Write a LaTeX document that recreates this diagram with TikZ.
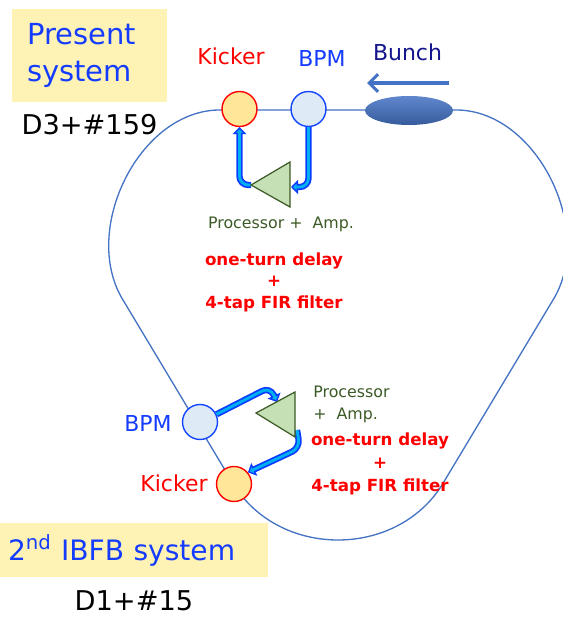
\documentclass[tikz,border=0pt]{standalone}
\usepackage{fontspec}
\setmainfont{DejaVu Sans}
\usetikzlibrary{arrows.meta,shapes.geometric,calc}
\definecolor{ringblue}{RGB}{68,114,196}
\definecolor{labelblue}{RGB}{20,60,255}
\definecolor{boxyellow}{RGB}{255,242,181}
\definecolor{kickfill}{RGB}{255,230,153}
\definecolor{bpmfill}{RGB}{222,235,247}
\definecolor{bpmdraw}{RGB}{20,70,255}
\definecolor{ampfill}{RGB}{197,224,180}
\definecolor{ampdraw}{RGB}{59,90,37}
\definecolor{fbblue}{RGB}{10,60,255}
\definecolor{fbcyan}{RGB}{0,176,240}
\definecolor{bunchnavy}{RGB}{20,20,140}
\begin{document}
\begin{tikzpicture}[x=0.02cm,y=-0.02cm]
  \tikzstyle{ring}=[draw=ringblue,line width=0.75pt]
  \tikzstyle{kicker}=[circle,draw=red,fill=kickfill,line width=0.8pt,minimum size=0.7cm,inner sep=0pt]
  \tikzstyle{bpm}=[circle,draw=bpmdraw,fill=bpmfill,line width=0.8pt,minimum size=0.7cm,inner sep=0pt]
  \tikzstyle{amp}=[draw=ampdraw,fill=ampfill,line width=0.7pt]
  \tikzstyle{fbout}=[draw=fbblue,line width=3.6pt,rounded corners=5pt,-{Triangle[length=4pt,width=8pt,line width=0.8pt,fill=fbcyan]}]
  \tikzstyle{fbin}=[draw=fbcyan,line width=1.6pt,rounded corners=5pt,shorten >=3pt]
  \tikzstyle{biglabel}=[inner sep=0pt,font=\fontsize{12.5}{14}\selectfont]
  \tikzstyle{proctext}=[inner sep=0pt,text=ampdraw,font=\fontsize{9}{12.5}\selectfont]
  \tikzstyle{firtext}=[inner sep=0pt,text=red,align=center]
  \tikzstyle{sysbox}=[fill=boxyellow,inner sep=0pt,align=left,text=labelblue]
  \useasboundingbox (0,0) rectangle (563,617);

  % ring
  \draw[ring] (222,110) -- (454,110) .. controls (536,108) and (596,230) .. (553,300)
     -- (445,480) .. controls (400,560) and (276,560) .. (231,480)
     -- (123,300) .. controls (80,230) and (140,108) .. (222,110);

  % present system
  \node[sysbox,minimum width=3.1cm,minimum height=1.86cm,text width=2.5cm,
        font=\fontsize{16.5}{21.5}\selectfont] (present) at (89.5,55.5) {Present\\system};
  \node[inner sep=0pt,font=\fontsize{15.5}{18}\selectfont] (d3) at (89.5,125) {D3+\#159};

  \node[kicker] (kick1) at (239.5,109) {};
  \node[bpm] (bpm1) at (308.5,109) {};
  \node[ellipse,draw=none,minimum width=1.76cm,minimum height=0.58cm,
        top color=ringblue!85!white,bottom color=ringblue!80!black] (bunch) at (409,110.5) {};
  \node[biglabel,text=red] (kicklab1) at (231,56) {Kicker};
  \node[biglabel,text=labelblue] (bpmlab1) at (322,58.5) {BPM};
  \node[biglabel,text=bunchnavy] (bunchlab) at (407.5,52) {Bunch};
  \coordinate (bunchtail) at (449,83);
  \coordinate (bunchhead) at (367,83);
  \draw[ringblue,line width=1.8pt,-{Straight Barb[length=5pt,width=10pt]}] (bunchtail) -- (bunchhead);

  \coordinate (amp1tip) at (251,185);
  \coordinate (amp1top) at (290,162);
  \coordinate (amp1bot) at (290,207);
  \coordinate (amp1in) at (291,187);
  \draw[fbout] (bpm1.south) |- (amp1in);
  \draw[fbin] (bpm1.south) |- (amp1in);
  \draw[fbout] (amp1tip) -| (kick1.south);
  \draw[fbin] (amp1tip) -| (kick1.south);
  \draw[amp] (amp1tip) -- (amp1top) -- (amp1bot) -- cycle;
  \node[proctext] (proc1) at (281,224) {Processor + \ Amp.};
  \node[firtext,font=\bfseries\fontsize{9.5}{12.2}\selectfont] (fir1) at (274,282) {one-turn delay\\+\\4-tap FIR filter};

  % 2nd IBFB system
  \node[bpm] (bpm2) at (200,422) {};
  \node[kicker] (kick2) at (234,484) {};
  \node[biglabel,text=labelblue] (bpmlab2) at (148,423.5) {BPM};
  \node[biglabel,text=red] (kicklab2) at (174,483) {Kicker};
  \coordinate (amp2tip) at (256,413);
  \coordinate (amp2top) at (295,392);
  \coordinate (amp2bot) at (295,437);
  \coordinate (amp2in) at (277,402);
  \coordinate (amp2out) at (297,430);
  \draw[fbout] (bpm2.25) -- (270,387) -- (amp2in);
  \draw[fbin] (bpm2.25) -- (270,387) -- (amp2in);
  \draw[fbout] (amp2out) -- (300,448) -- (kick2.40);
  \draw[fbin] (amp2out) -- (300,448) -- (kick2.40);
  \draw[amp] (amp2tip) -- (amp2top) -- (amp2bot) -- cycle;
  \node[proctext,align=left,anchor=west] (proc2) at (313,404) {Processor\\+ \ Amp.};
  \node[firtext,font=\bfseries\fontsize{9.5}{13}\selectfont] (fir2) at (380,464) {one-turn delay\\+\\4-tap FIR filter};

  \node[sysbox,minimum width=5.36cm,minimum height=1.08cm,text width=5.04cm,
        font=\fontsize{16}{18}\selectfont] (second) at (134,550) {2\textsuperscript{nd} IBFB system};
  \node[inner sep=0pt,font=\fontsize{15.5}{18}\selectfont] (d1) at (134,601) {D1+\#15};
\end{tikzpicture}
\end{document}
